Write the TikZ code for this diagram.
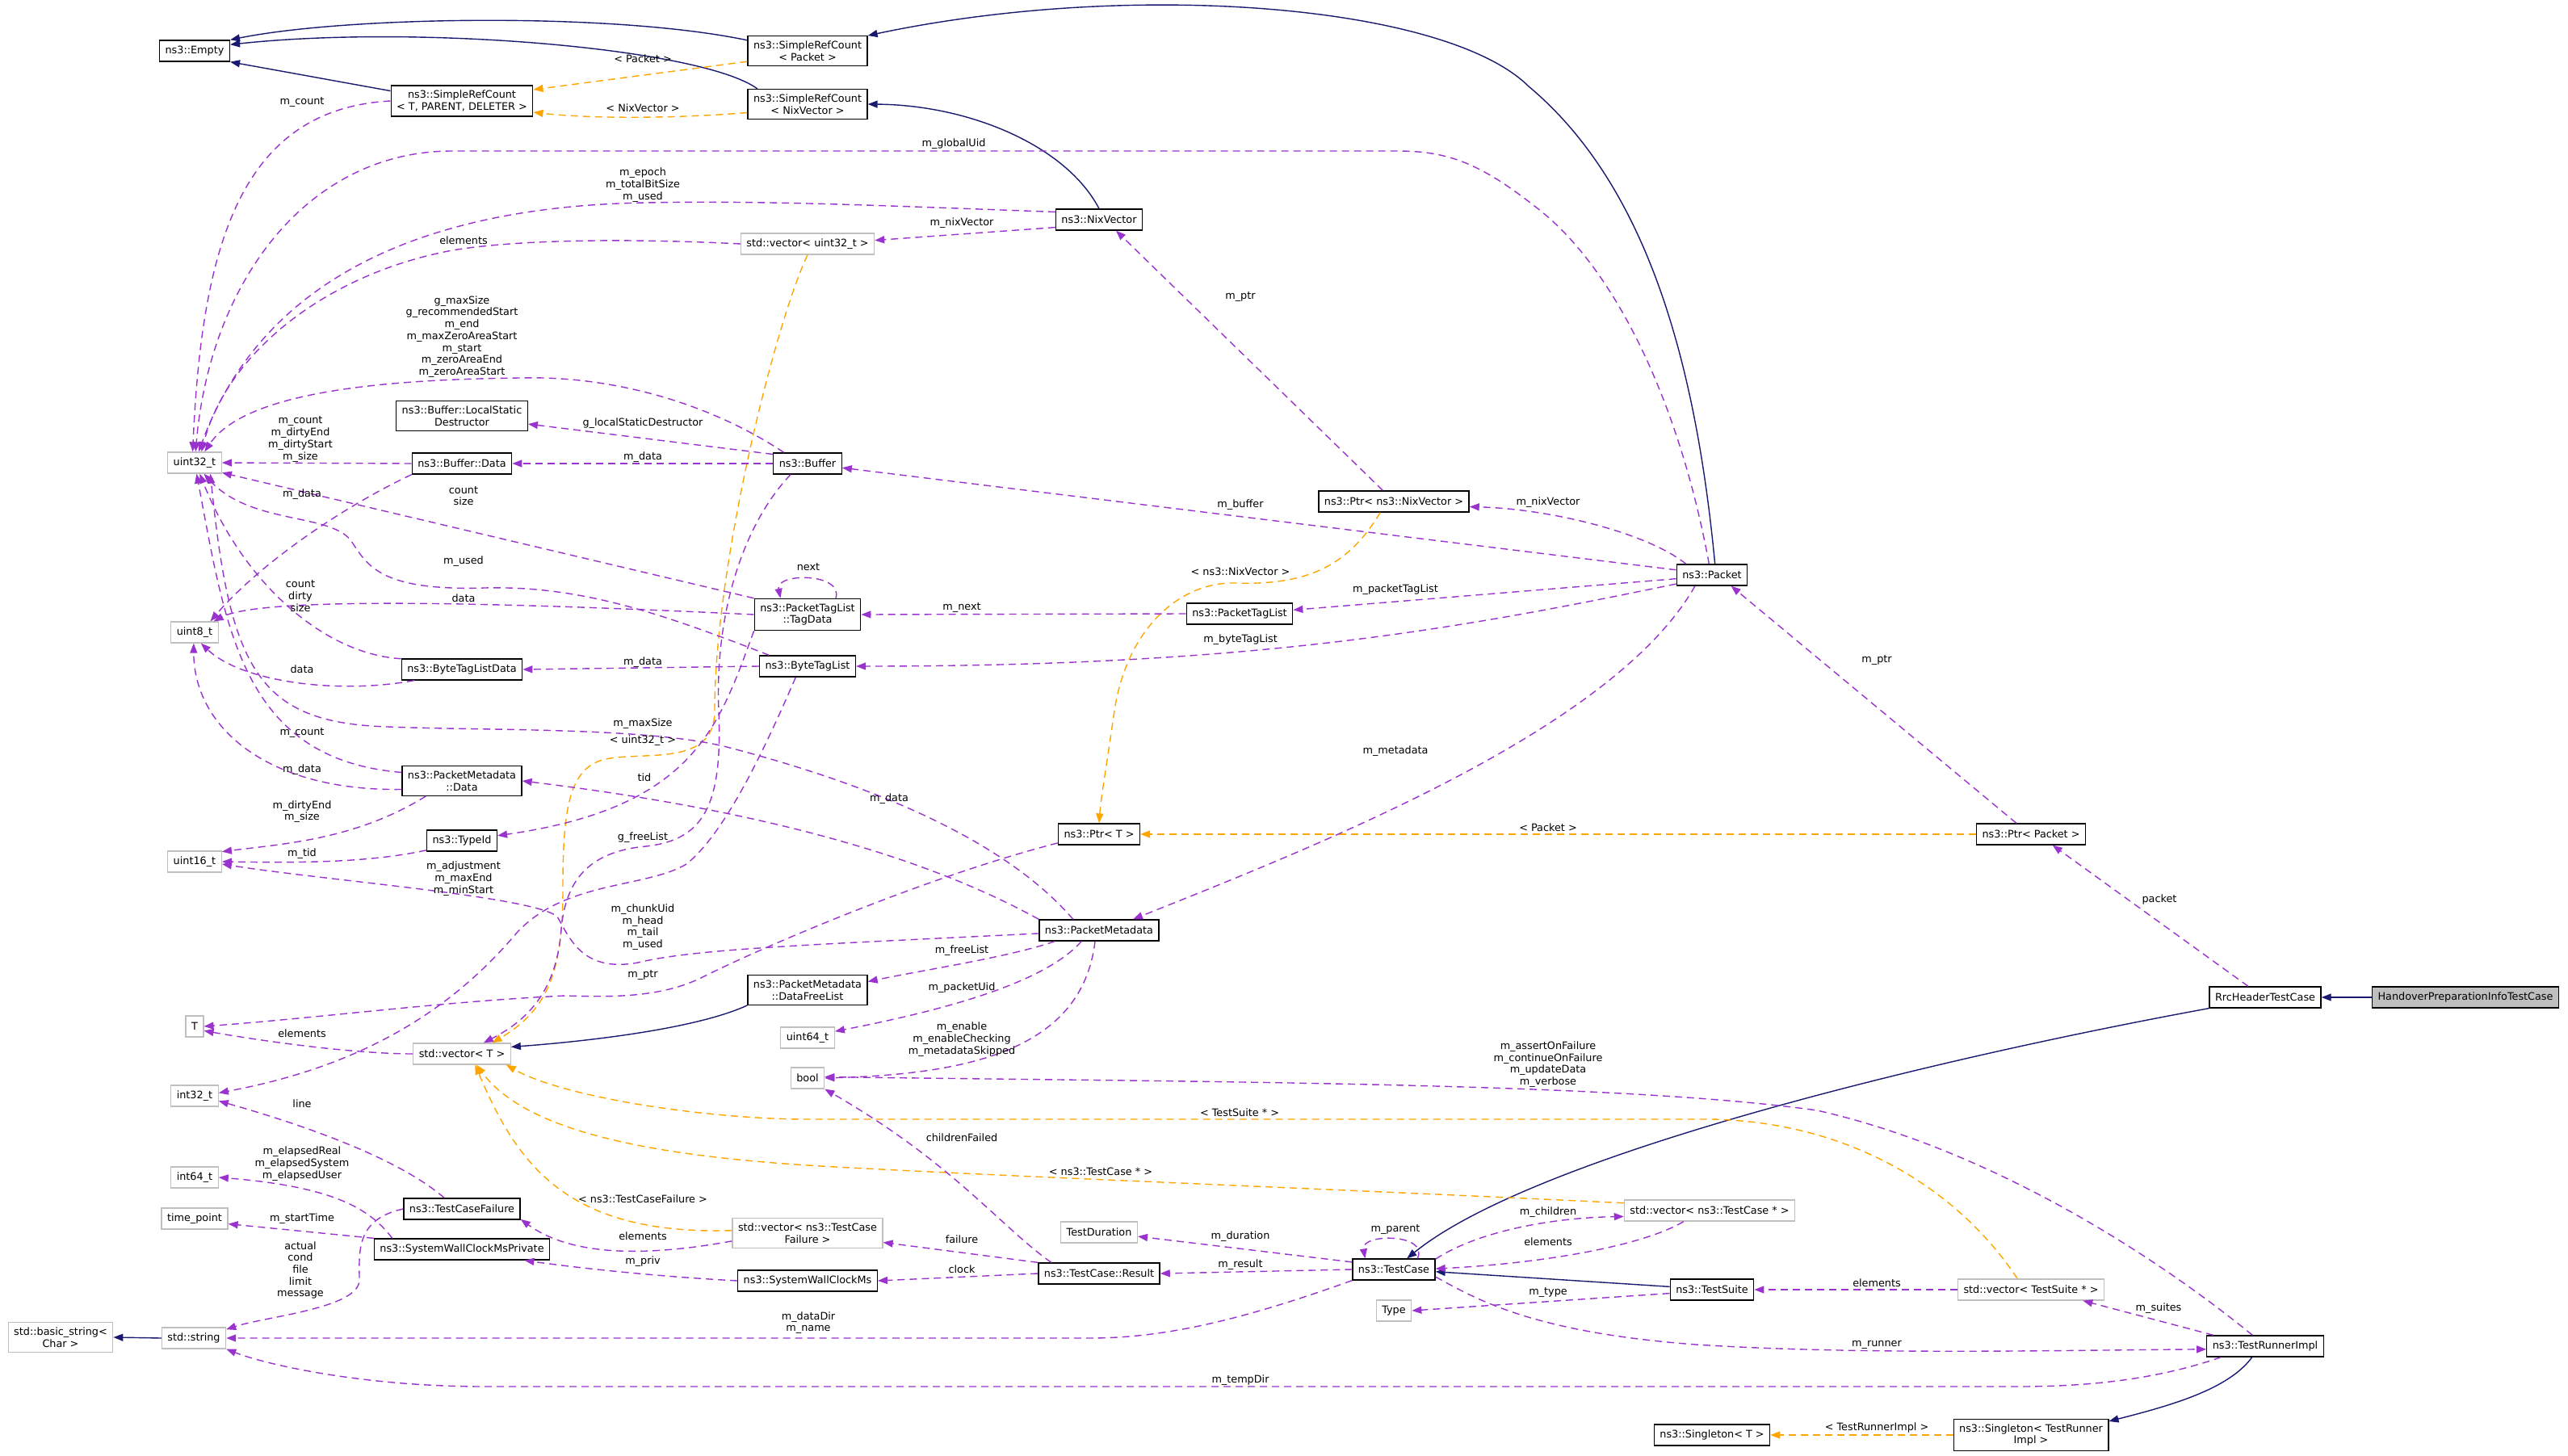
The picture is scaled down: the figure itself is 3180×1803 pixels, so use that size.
\documentclass[tikz,border=0pt]{standalone}
\usepackage{fontspec}
\setmainfont{DejaVu Sans}
\usetikzlibrary{arrows.meta}

\definecolor{usecol}{HTML}{9A32CD}
\definecolor{inhcol}{HTML}{191970}
\definecolor{tplcol}{HTML}{FFA500}
\definecolor{extcol}{HTML}{BFBFBF}

\newcommand{\dgfont}{\fontsize{12.8}{14.7}\selectfont}

\tikzset{
  cls/.style={draw=black, fill=white, line width=1.3pt, font=\dgfont, align=center,
    inner xsep=7pt, inner ysep=6pt, minimum height=26pt},
  extcls/.style={cls, draw=extcol},
  focuscls/.style={cls, fill=extcol},
  lbl/.style={font=\dgfont, align=center, inner sep=0pt},
  memberedge/.style={color=usecol, line width=1.4pt, dash pattern=on 9pt off 6pt,
    -{Triangle[length=12pt,width=9pt]}},
  inheritedge/.style={color=inhcol, line width=1.4pt, -{Triangle[length=12pt,width=9pt]}},
  tmpledge/.style={color=tplcol, line width=1.4pt, dash pattern=on 9pt off 6pt,
    -{Triangle[length=12pt,width=9pt]}},
}

\begin{document}
\begin{tikzpicture}[x=1pt, y=-1pt]

	\useasboundingbox (0,0) rectangle (3180,1803);

	\node[cls] (empty) at (241,63) {ns3::Empty};
	\node[cls] (srcpkt) at (1000,63) {ns3::SimpleRefCount\\< Packet >};
	\node[cls] (srctpd) at (572,125) {ns3::SimpleRefCount\\< T, PARENT, DELETER >};
	\node[cls] (srcnix) at (1000,129) {ns3::SimpleRefCount\\< NixVector >};
	\node[cls] (nixvec) at (1361,272) {ns3::NixVector};
	\node[extcls] (vecu32) at (1000,302) {std::vector< uint32\_t >};
	\node[cls] (lsd) at (572,515) {ns3::Buffer::LocalStatic\\Destructor};
	\node[extcls] (u32) at (241,573) {uint32\_t};
	\node[cls] (bufdata) at (572,574) {ns3::Buffer::Data};
	\node[cls] (buffer) at (1000,574) {ns3::Buffer};
	\node[cls] (ptrnix) at (1726,621) {ns3::Ptr< ns3::NixVector >};
	\node[cls] (packet) at (2120,712) {ns3::Packet};
	\node[cls] (pkttaglist) at (1535,760) {ns3::PacketTagList};
	\node[cls] (tagdata) at (1000,761) {ns3::PacketTagList\\::TagData};
	\node[extcls] (u8) at (241,783) {uint8\_t};
	\node[cls] (btldata) at (572,829) {ns3::ByteTagListData};
	\node[cls] (btl) at (1000,825) {ns3::ByteTagList};
	\node[cls] (pmdata) at (572,967) {ns3::PacketMetadata\\::Data};
	\node[cls] (ptrt) at (1361,1033) {ns3::Ptr< T >};
	\node[cls] (ptrpkt) at (2515,1033) {ns3::Ptr< Packet >};
	\node[cls] (typeid) at (572,1041) {ns3::TypeId};
	\node[extcls] (u16) at (241,1067) {uint16\_t};
	\node[cls] (pm) at (1361,1152) {ns3::PacketMetadata};
	\node[cls] (freelist) at (1000,1226) {ns3::PacketMetadata\\::DataFreeList};
	\node[cls] (rrc) at (2805,1235) {RrcHeaderTestCase};
	\node[focuscls] (hpi) at (3053,1235) {HandoverPreparationInfoTestCase};
	\node[extcls] (tnode) at (241,1271) {T};
	\node[extcls] (u64) at (1000,1285) {uint64\_t};
	\node[extcls] (vect) at (572,1305) {std::vector< T >};
	\node[extcls] (bool) at (1000,1335) {bool};
	\node[extcls] (i32) at (241,1357) {int32\_t};
	\node[extcls] (i64) at (241,1458) {int64\_t};
	\node[cls] (tcf) at (572,1497) {ns3::TestCaseFailure};
	\node[extcls] (vectc) at (2117,1499) {std::vector< ns3::TestCase * >};
	\node[extcls] (timept) at (241,1509) {time\_point};
	\node[extcls] (vectcf) at (1000,1527) {std::vector< ns3::TestCase\\Failure >};
	\node[extcls] (testdur) at (1361,1526) {TestDuration};
	\node[cls] (swcmp) at (572,1547) {ns3::SystemWallClockMsPrivate};
	\node[cls] (testcase) at (1726,1572) {ns3::TestCase};
	\node[cls] (result) at (1361,1577) {ns3::TestCase::Result};
	\node[cls] (swcm) at (1000,1586) {ns3::SystemWallClockMs};
	\node[cls] (testsuite) at (2120,1597) {ns3::TestSuite};
	\node[extcls] (vects) at (2515,1597) {std::vector< TestSuite * >};
	\node[extcls] (typenode) at (1726,1623) {Type};
	\node[extcls] (basicstr) at (75,1656) {std::basic\_string<\\Char >};
	\node[extcls] (stdstr) at (240,1657) {std::string};
	\node[cls] (runner) at (2805,1667) {ns3::TestRunnerImpl};
	\node[cls] (singt) at (2120,1777) {ns3::Singleton< T >};
	\node[cls] (singtr) at (2515,1777) {ns3::Singleton< TestRunner\\Impl >};

	% inheritance
	\draw[inheritedge] (srcpkt.170) .. controls (760,15) and (430,20) .. (empty.north east);
	\draw[inheritedge] (srcnix.163) .. controls (870,60) and (520,30) .. (empty.10);
	\path[inheritedge] (srctpd.172) edge (empty.south east);
	\draw[inheritedge] (packet.75) .. controls (2100,450) and (2040,230) .. (1893,107) .. controls (1790,5) and (1400,-25) .. (srcpkt.north east);
	\draw[inheritedge] (nixvec.north) .. controls (1320,180) and (1200,130) .. (srcnix.east);
	\draw[inheritedge] (freelist.south west) .. controls (860,1275) and (720,1290) .. (vect.8);
	\path[inheritedge] (testsuite.176) edge (testcase.-3);
	\draw[inheritedge] (rrc.south west) .. controls (2400,1310) and (1900,1430) .. (testcase.40);
	\path[inheritedge] (hpi.west) edge (rrc.east);
	\draw[inheritedge] (runner.-140) .. controls (2760,1720) and (2690,1740) .. (singtr.10);
	\path[inheritedge] (stdstr.west) edge (basicstr.east);

	% template instances
	\path[tmpledge] (srcpkt.190) edge (srctpd.9);
	\draw[tmpledge] (srcnix.188) .. controls (820,148) and (720,146) .. (srctpd.-9);
	\draw[tmpledge] (vecu32.south) .. controls (960,400) and (885,700) .. (885,880) .. controls (885,950) and (800,930) .. (750,940) .. controls (705,950) and (697,1000) .. (697,1100) .. controls (697,1200) and (680,1250) .. (vect.20);
	\draw[tmpledge] (ptrnix.-141) .. controls (1670,700) and (1620,725) .. (1530,722) .. controls (1460,720) and (1395,780) .. (1380,880) .. controls (1370,950) and (1363,990) .. (ptrt.north);
	\path[tmpledge] (ptrpkt.west) edge (ptrt.east);
	\draw[tmpledge] (vects.141) .. controls (2430,1480) and (2300,1390) .. (2120,1386) -- (1000,1386) .. controls (880,1386) and (700,1360) .. (vect.-14);
	\draw[tmpledge] (vectc.175) .. controls (1600,1470) and (1200,1455) .. (1000,1443) .. controls (800,1430) and (650,1400) .. (vect.-37);
	\draw[tmpledge] (vectcf.178) .. controls (700,1530) and (640,1440) .. (vect.-40);
	\path[tmpledge] (singtr.west) edge (singt.east);

	% members
	\draw[memberedge] (srctpd.west) .. controls (300,135) and (250,300) .. (u32.100);
	\draw[memberedge] (packet.105) .. controls (2080,500) and (2000,330) .. (1900,255) .. controls (1830,200) and (1790,187) .. (1730,187) -- (560,187) .. controls (380,187) and (260,350) .. (u32.85);
	\draw[memberedge] (nixvec.170) .. controls (1100,255) and (950,248) .. (800,251) .. controls (550,255) and (330,330) .. (u32.70);
	\path[memberedge] (nixvec.190) edge (vecu32.3);
	\draw[memberedge] (vecu32.west) .. controls (800,296) and (650,295) .. (560,310) .. controls (400,340) and (280,440) .. (u32.58);
	\draw[memberedge] (buffer.155) .. controls (880,500) and (760,465) .. (645,468) .. controls (450,470) and (300,490) .. (u32.48);
	\path[memberedge] (buffer.165) edge (lsd.-7);
	\path[memberedge] (buffer.west) edge (bufdata.east);
	\path[memberedge] (bufdata.west) edge (u32.east);
	\draw[memberedge] (bufdata.south west) .. controls (420,630) and (320,700) .. (u8.35);
	\path[memberedge] (tagdata.north west) edge (u32.-20);
	\draw[memberedge] (btl.164) .. controls (820,760) and (720,725) .. (600,728) .. controls (470,732) and (455,700) .. (435,670) .. controls (410,635) and (310,650) .. (u32.-50);
	\draw[memberedge] (btldata.170) .. controls (400,810) and (300,720) .. (u32.-65);
	\path[memberedge] (btl.west) edge (btldata.east);
	\draw[memberedge] (tagdata.west) .. controls (700,750) and (330,735) .. (u8.30);
	\draw[memberedge] (tagdata.30) .. controls (1045,709) and (960,709) .. (tagdata.149);
	\path[memberedge] (pkttaglist.west) edge (tagdata.east);
	\draw[memberedge] (tagdata.south west) .. controls (890,900) and (860,1000) .. (typeid.8);
	\draw[memberedge] (pmdata.172) .. controls (300,940) and (280,780) .. (u32.-80);
	\draw[memberedge] (pm.157) .. controls (1270,1070) and (1150,990) .. (900,925) .. controls (800,900) and (600,905) .. (480,900) .. controls (320,895) and (285,830) .. (u32.-35);
	\draw[memberedge] (pmdata.188) .. controls (330,980) and (240,900) .. (u8.-95);
	\draw[memberedge] (btldata.-167) .. controls (420,860) and (300,845) .. (u8.-60);
	\draw[memberedge] (pm.north west) .. controls (1180,1080) and (1000,1010) .. (pmdata.east);
	\draw[memberedge] (pmdata.-157) .. controls (440,1040) and (350,1045) .. (u16.20);
	\draw[memberedge] (typeid.-165) .. controls (450,1070) and (350,1068) .. (u16.east);
	\draw[memberedge] (pm.183) .. controls (1000,1170) and (860,1175) .. (790,1192) .. controls (720,1205) and (705,1160) .. (690,1135) .. controls (660,1110) and (400,1090) .. (u16.-5);
	\draw[memberedge] (btl.-137) .. controls (950,920) and (900,1030) .. (850,1070) .. controls (800,1100) and (700,1090) .. (640,1155) .. controls (560,1250) and (450,1320) .. (i32.7);
	\draw[memberedge] (buffer.-147) .. controls (920,650) and (885,760) .. (890,880) .. controls (895,1000) and (870,1040) .. (800,1048) .. controls (720,1055) and (700,1100) .. (695,1150) .. controls (690,1220) and (660,1260) .. (vect.27);
	\draw[memberedge] (ptrt.-168) .. controls (1150,1085) and (950,1170) .. (870,1210) .. controls (820,1235) and (760,1235) .. (700,1233) .. controls (550,1240) and (400,1260) .. (tnode.east);
	\draw[memberedge] (vect.west) .. controls (440,1305) and (330,1290) .. (tnode.-25);
	\draw[memberedge] (pm.-166) .. controls (1250,1185) and (1150,1200) .. (freelist.8);
	\draw[memberedge] (pm.-148) .. controls (1300,1210) and (1200,1245) .. (u64.13);
	\draw[memberedge] (pm.-110) .. controls (1340,1300) and (1200,1330) .. (bool.east);
	\draw[memberedge] (result.167) .. controls (1240,1520) and (1180,1440) .. (bool.south east);
	\draw[memberedge] (runner.139) .. controls (2650,1540) and (2450,1420) .. (2250,1375) .. controls (2000,1340) and (1500,1340) .. (bool.4);
	\draw[memberedge] (tcf.148) .. controls (500,1440) and (400,1400) .. (i32.-12);
	\draw[memberedge] (swcmp.171) .. controls (460,1500) and (420,1470) .. (i64.east);
	\path[memberedge] (swcmp.north west) edge (timept.-9);
	\draw[memberedge] (tcf.west) .. controls (440,1510) and (445,1550) .. (445,1585) .. controls (445,1620) and (330,1630) .. (stdstr.15);
	\draw[memberedge] (vectcf.-174) .. controls (780,1560) and (700,1550) .. (tcf.-10);
	\draw[memberedge] (swcm.west) .. controls (800,1580) and (700,1568) .. (swcmp.-10);
	\path[memberedge] (result.west) edge (swcm.east);
	\path[memberedge] (result.north west) edge (vectcf.-7);
	\path[memberedge] (testcase.170) edge (testdur.-6);
	\path[memberedge] (testcase.west) edge (result.east);
	\draw[memberedge] (testcase.25) .. controls (1770,1527) and (1685,1527) .. (testcase.159);
	\draw[memberedge] (testcase.14) .. controls (1830,1525) and (1920,1508) .. (vectc.-176);
	\draw[memberedge] (vectc.-157) .. controls (2030,1545) and (1900,1565) .. (testcase.1);
	\path[memberedge] (testsuite.-175) edge (typenode.east);
	\path[memberedge] (vects.west) edge (testsuite.east);
	\path[memberedge] (runner.168) edge (vects.-12);
	\draw[memberedge] (testcase.-10) .. controls (1830,1610) and (1900,1650) .. (2100,1665) .. controls (2300,1678) and (2550,1672) .. (runner.-177);
	\draw[memberedge] (testcase.south west) .. controls (1550,1630) and (1450,1657) .. (1350,1657) -- (stdstr.east);
	\draw[memberedge] (runner.-166) .. controls (2680,1705) and (2600,1717) .. (2500,1717) -- (600,1717) .. controls (450,1717) and (330,1690) .. (stdstr.south east);
	\path[memberedge] (rrc.147) edge (ptrpkt.-27);
	\path[memberedge] (ptrpkt.143) edge (packet.-30);
	\draw[memberedge] (packet.157) .. controls (2040,660) and (1920,630) .. (ptrnix.-4);
	\path[memberedge] (ptrnix.135) edge (nixvec.-33);
	\path[memberedge] (packet.172) edge (buffer.-7);
	\path[memberedge] (packet.-174) edge (pkttaglist.4);
	\draw[memberedge] (packet.-166) .. controls (1800,780) and (1550,825) .. (btl.east);
	\draw[memberedge] (packet.-147) .. controls (2000,900) and (1650,1040) .. (pm.18);

	% labels
	\node[lbl] (lsrcpkt) at (796,73) {< Packet >};
	\node[lbl] (lsrcnix) at (796,134) {< NixVector >};
	\node[lbl] (lrefcount) at (374,127) {m\_count};
	\node[lbl] (lglobaluid) at (1181,178) {m\_globalUid};
	\node[lbl] (lepoch) at (796,229) {m\_epoch\\m\_totalBitSize\\m\_used};
	\node[lbl] (lnixvector) at (1191,276) {m\_nixVector};
	\node[lbl] (lelemu32) at (574,298) {elements};
	\node[lbl] (lbufu32) at (572,417) {g\_maxSize\\g\_recommendedStart\\m\_end\\m\_maxZeroAreaStart\\m\_start\\m\_zeroAreaEnd\\m\_zeroAreaStart};
	\node[lbl] (llsd) at (796,524) {g\_localStaticDestructor};
	\node[lbl] (ldatau32) at (372,544) {m\_count\\m\_dirtyEnd\\m\_dirtyStart\\m\_size};
	\node[lbl] (lbufdata) at (796,566) {m\_data};
	\node[lbl] (ltagu32) at (574,614) {count\\size};
	\node[lbl] (ldatau8) at (374,612) {m\_data};
	\node[lbl] (lbuffer) at (1536,625) {m\_buffer};
	\node[lbl] (lptrnix) at (1917,622) {m\_nixVector};
	\node[lbl] (lnixptr) at (1536,368) {m\_ptr};
	\node[lbl] (lused) at (574,695) {m\_used};
	\node[lbl] (lnext) at (1001,702) {next};
	\node[lbl] (ltplnix) at (1536,708) {< ns3::NixVector >};
	\node[lbl] (lpkttag) at (1728,730) {m\_packetTagList};
	\node[lbl] (lbtldu32) at (372,738) {count\\dirty\\size};
	\node[lbl] (ltagu8) at (574,741) {data};
	\node[lbl] (lmnext) at (1191,753) {m\_next};
	\node[lbl] (lbytetag) at (1536,792) {m\_byteTagList};
	\node[lbl] (lbtldata) at (796,820) {m\_data};
	\node[lbl] (lbtldu8) at (374,829) {data};
	\node[lbl] (lpktptr) at (2324,818) {m\_ptr};
	\node[lbl] (lmaxsize) at (796,896) {m\_maxSize};
	\node[lbl] (ltplu32) at (796,917) {< uint32\_t >};
	\node[lbl] (lpmdu32) at (374,908) {m\_count};
	\node[lbl] (lmeta) at (1728,930) {m\_metadata};
	\node[lbl] (lpmdu8) at (374,953) {m\_data};
	\node[lbl] (ltid) at (798,963) {tid};
	\node[lbl] (lpmdata) at (1101,989) {m\_data};
	\node[lbl] (lpmdu16) at (374,1005) {m\_dirtyEnd\\m\_size};
	\node[lbl] (ltplpkt) at (1917,1025) {< Packet >};
	\node[lbl] (lfreelistg) at (796,1037) {g\_freeList};
	\node[lbl] (ltid16) at (374,1057) {m\_tid};
	\node[lbl] (lbtli32) at (574,1088) {m\_adjustment\\m\_maxEnd\\m\_minStart};
	\node[lbl] (lpacket) at (2674,1114) {packet};
	\node[lbl] (lpmu16) at (796,1148) {m\_chunkUid\\m\_head\\m\_tail\\m\_used};
	\node[lbl] (lfreelist) at (1191,1177) {m\_freeList};
	\node[lbl] (lptrt) at (796,1208) {m\_ptr};
	\node[lbl] (lpktuid) at (1191,1223) {m\_packetUid};
	\node[lbl] (lelemt) at (374,1280) {elements};
	\node[lbl] (lpmbool) at (1191,1287) {m\_enable\\m\_enableChecking\\m\_metadataSkipped};
	\node[lbl] (lrunbool) at (1917,1318) {m\_assertOnFailure\\m\_continueOnFailure\\m\_updateData\\m\_verbose};
	\node[lbl] (ltin) at (374,1367) {line};
	\node[lbl] (ltplsuite) at (1535,1378) {< TestSuite * >};
	\node[lbl] (lchildfail) at (1191,1409) {childrenFailed};
	\node[lbl] (lelapsed) at (374,1441) {m\_elapsedReal\\m\_elapsedSystem\\m\_elapsedUser};
	\node[lbl] (ltplcase) at (1363,1451) {< ns3::TestCase * >};
	\node[lbl] (ltplfail) at (796,1485) {< ns3::TestCaseFailure >};
	\node[lbl] (lparent) at (1728,1522) {m\_parent};
	\node[lbl] (lchildren) at (1917,1501) {m\_children};
	\node[lbl] (lstart) at (374,1509) {m\_startTime};
	\node[lbl] (lelemfail) at (796,1531) {elements};
	\node[lbl] (lduration) at (1536,1531) {m\_duration};
	\node[lbl] (lfailure) at (1191,1535) {failure};
	\node[lbl] (lelemcase) at (1917,1538) {elements};
	\node[lbl] (lpriv) at (796,1562) {m\_priv};
	\node[lbl] (lresult) at (1536,1566) {m\_result};
	\node[lbl] (lclock) at (1191,1572) {clock};
	\node[lbl] (lfailstr) at (372,1573) {actual\\cond\\file\\limit\\message};
	\node[lbl] (lelemsuite) at (2324,1589) {elements};
	\node[lbl] (ltype) at (1917,1600) {m\_type};
	\node[lbl] (lsuites) at (2673,1620) {m\_suites};
	\node[lbl] (ldatadir) at (1001,1638) {m\_dataDir\\m\_name};
	\node[lbl] (lrunner) at (2324,1665) {m\_runner};
	\node[lbl] (ltempdir) at (1536,1709) {m\_tempDir};
	\node[lbl] (ltplrunner) at (2324,1768) {< TestRunnerImpl >};

\end{tikzpicture}
\end{document}
